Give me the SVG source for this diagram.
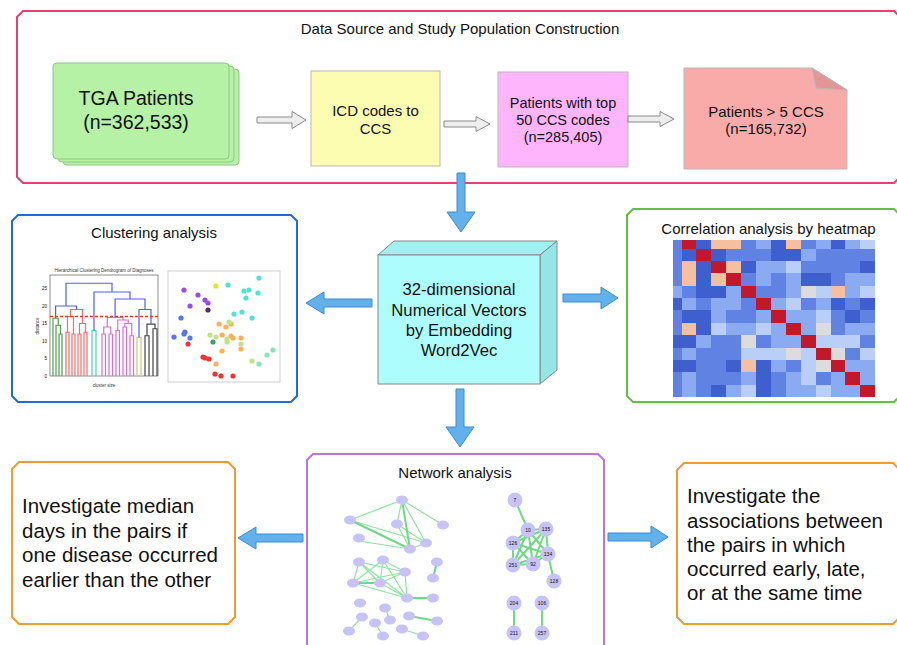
<svg xmlns="http://www.w3.org/2000/svg" width="897" height="645" viewBox="0 0 897 645">
<style>
text{font-family:"Liberation Sans",Arial,sans-serif;fill:#111}
.title{font-size:15px;text-anchor:middle}
.big{font-size:20.5px}
.frame{fill:#fff;stroke-width:2}
.garrow{fill:#eeeeee;stroke:#8a8a8a;stroke-width:1}
.barrow{fill:#63b1ea;stroke:#3b8bd0;stroke-width:1}
.d{fill:#3f5fcf}.m{fill:#5f82e3}.l{fill:#8aaaf2}.v{fill:#b9cff7}.g{fill:#dcdcdc}.p{fill:#f5bfa0}.r{fill:#c2182b}
.dg{fill:none;stroke-width:1.2}
.ne{stroke:#8fe39f;stroke-width:1.2;fill:none}
.nt{stroke:#6fd985;stroke-width:2;fill:none}
.nn{fill:#c7c3f6}
.nl{font-size:5px;fill:#444;text-anchor:middle}
.tiny{font-size:4.5px;fill:#333}
</style>

<g id="population-box">
<path class="frame" stroke="#e6416e" d="M23 11 H894 L900 17 V177 L894 183 H23 L17 177 V17 Z"/>
<text class="title" x="460" y="34">Data Source and Study Population Construction</text>
</g>

<g id="tga-patients">
<rect x="63" y="69" width="176" height="96" rx="4" fill="#b5f2a6" stroke="#8cc97e"/>
<rect x="58" y="66" width="176" height="96" rx="4" fill="#b5f2a6" stroke="#8cc97e"/>
<rect x="53" y="63" width="176" height="96" rx="4" fill="#b5f2a6" stroke="#8cc97e"/>
<text x="136" y="105" font-size="19.5" text-anchor="middle">TGA Patients</text>
<text x="136" y="129" font-size="19.5" text-anchor="middle">(n=362,533)</text>
</g>

<g id="icd-to-ccs">
<rect x="311" y="71" width="129" height="95" fill="#fdfdb2" stroke="#b8b8b8"/>
<text x="375.5" y="116" font-size="15" text-anchor="middle">ICD codes to</text>
<text x="375.5" y="134" font-size="15" text-anchor="middle">CCS</text>
</g>

<g id="top50">
<rect x="498" y="72" width="130" height="95" fill="#ffb5fc" stroke="#b8b8b8"/>
<text x="563" y="108" font-size="14.5" text-anchor="middle">Patients with top</text>
<text x="563" y="125" font-size="14.5" text-anchor="middle">50 CCS codes</text>
<text x="563" y="142" font-size="14.5" text-anchor="middle">(n=285,405)</text>
</g>

<g id="patients-5ccs">
<path d="M684 68 H812 L847 90 V169 H684 Z" fill="#f8aba9" stroke="#b8b8b8"/>
<path d="M812 68 L816 88 L847 90 Z" fill="#e39695" stroke="#b8b8b8"/>
<text x="766" y="117" font-size="15" text-anchor="middle">Patients &gt; 5 CCS</text>
<text x="766" y="134" font-size="15" text-anchor="middle">(n=165,732)</text>
</g>

<g id="embedding-cube">
<path d="M378 255 L394 241 H557 L540 255 Z" fill="#9ff0f0" stroke="#888"/>
<path d="M540 255 L557 241 V370 L540 384 Z" fill="#94e6e6" stroke="#888"/>
<rect x="378" y="255" width="162" height="129" fill="#aefdfd" stroke="#888"/>
<text x="459" y="295" font-size="16.7" text-anchor="middle">32-dimensional</text>
<text x="459" y="315.5" font-size="16.7" text-anchor="middle">Numerical Vectors</text>
<text x="459" y="336" font-size="16.7" text-anchor="middle">by Embedding</text>
<text x="459" y="356" font-size="16.7" text-anchor="middle">Word2Vec</text>
</g>

<g id="clustering-analysis">
<path class="frame" stroke="#2468da" d="M18 215 H291 L297 221 V396 L291 402 H18 L12 396 V221 Z"/>
<text class="title" x="154" y="238">Clustering analysis</text>
<text class="tiny" x="104" y="272" font-size="5" text-anchor="middle">Hierarchical Clustering Dendrogram of Diagnoses</text>
<rect x="50" y="275" width="108" height="101" fill="none" stroke="#444" stroke-width="0.6"/>
<g class="tiny" text-anchor="end">
<text x="47" y="377.5">0</text><text x="47" y="360">5</text><text x="47" y="342.5">10</text>
<text x="47" y="325">15</text><text x="47" y="307.5">20</text><text x="47" y="290">25</text>
</g>
<text class="tiny" font-size="4" transform="translate(39 326) rotate(-90)" text-anchor="middle">distance</text>
<text class="tiny" font-size="4" x="104" y="387" text-anchor="middle">cluster size</text>
<g class="dg" stroke="#4c9c4c">
<path d="M59 376 V334 H62 V376 M56 376 V325.25 H60.5 V334 M53 376 V318.25 H58.25 V325.25"/>
</g>
<g class="dg" stroke="#f26d6d">
<path d="M66 376 V332.25 H69 V376 M72 376 V334 H75 V376 M78 376 V334 H81 V376 M84 376 V332.25 H87 V376 M67.5 332.25 V316.5 H73.5 V334 M79.5 334 V323.5 H85.5 V332.25 M70.5 316.5 V309.5 H82.5 V323.5"/>
</g>
<path class="dg" stroke="#4cc8c8" d="M92 376 V330.5 H96 V376"/>
<g class="dg" stroke="#d46ee0">
<path d="M102 376 V334 H105.5 V376 M109 376 V334 H112.5 V376 M116 376 V330.5 H119.5 V376 M123 376 V327 H126.5 V376 M130 376 V335.75 H133.5 V376 M103.75 334 V327 H110.75 V334 M124.75 327 V323.5 H131.75 V335.75 M117.75 330.5 V320 H128.25 V323.5 M107.25 327 V317.5 H123 V320"/>
</g>
<path class="dg" stroke="#c9c96a" d="M137 376 V337.5 H141 V376"/>
<path class="dg" stroke="#444" d="M145 376 V335.75 H149 V376 M153 376 V328.75 H157 V376 M147 335.75 V324.2 H155 V328.75"/>
<path class="dg" stroke="#4f5ff0" d="M55.6 318.25 V306 H76.5 V309.5 M139 337.5 V309.5 H151 V324.2 M115.1 317.5 V299 H145 V309.5 M94 330.5 V292 H130 V299 M66 306 V283.25 H112 V292"/>
<path d="M50 316.5 H158" stroke="#f03030" stroke-width="1.5" stroke-dasharray="3 2" fill="none"/>
<rect x="168" y="271" width="112" height="111" fill="#fff" stroke="#cfcfcf"/>
<g opacity="0.85">
<g fill="#2fe0cf"><circle cx="259" cy="278" r="2.6"/><circle cx="228" cy="285" r="2.6"/><circle cx="244" cy="291" r="2.6"/><circle cx="249" cy="290" r="2.6"/><circle cx="258" cy="293" r="2.6"/><circle cx="246" cy="298" r="2.6"/><circle cx="242" cy="312" r="2.6"/><circle cx="234" cy="314" r="2.6"/><circle cx="252" cy="318" r="2.6"/></g>
<circle cx="216" cy="286" r="2.6" fill="#e6e000"/>
<g fill="#8a2be2"><circle cx="184" cy="290" r="2.6"/><circle cx="198" cy="295" r="2.6"/><circle cx="205" cy="300" r="2.6"/><circle cx="208" cy="303" r="2.6"/><circle cx="190" cy="306" r="2.6"/></g>
<circle cx="208" cy="310" r="2.6" fill="#3a0a4a"/>
<g fill="#3a5cf5"><circle cx="181" cy="318" r="2.6"/><circle cx="185" cy="332" r="2.6"/><circle cx="184" cy="334" r="2.6"/><circle cx="190" cy="338" r="2.6"/><circle cx="174" cy="337" r="2.6"/></g>
<g fill="#f01010"><circle cx="188" cy="344" r="2.6"/><circle cx="203" cy="357" r="2.6"/><circle cx="205" cy="358" r="2.6"/><circle cx="209" cy="359" r="2.6"/><circle cx="215" cy="374" r="2.6"/><circle cx="221" cy="376" r="2.6"/><circle cx="233" cy="376" r="2.6"/></g>
<g fill="#ffa040"><circle cx="219" cy="324" r="2.6"/><circle cx="226" cy="327" r="2.6"/><circle cx="231" cy="324" r="2.6"/><circle cx="222" cy="335" r="2.6"/><circle cx="231" cy="336" r="2.6"/><circle cx="233" cy="338" r="2.6"/><circle cx="241" cy="338" r="2.6"/><circle cx="241" cy="349" r="2.6"/><circle cx="222" cy="351" r="2.6"/><circle cx="216" cy="364" r="2.6"/></g>
<g fill="#b6e06e"><circle cx="210" cy="335" r="2.6"/><circle cx="229" cy="322" r="2.6"/><circle cx="216" cy="337" r="2.6"/><circle cx="227" cy="339" r="2.6"/><circle cx="227" cy="342" r="2.6"/><circle cx="241" cy="344" r="2.6"/><circle cx="252" cy="361" r="2.6"/></g>
<circle cx="213" cy="342" r="2.6" fill="#1f8f50"/>
<g fill="#6fe3a5"><circle cx="267" cy="355" r="2.6"/><circle cx="273" cy="350" r="2.6"/><circle cx="259" cy="364" r="2.6"/></g>
</g>
</g>

<g id="heatmap-analysis">
<path class="frame" stroke="#62c047" d="M633 209 H894 L900 215 V396 L894 402 H633 L627 396 V215 Z"/>
<text class="title" x="768.5" y="234">Correlation analysis by heatmap</text>
<g id="heatmap-cells" shape-rendering="crispEdges">
<g transform="translate(0 240)">
<rect class="m" x="673" y="0" width="9" height="9"/><rect class="r" x="681.5" y="0" width="15.4" height="9"/><rect class="d" x="696.4" y="0" width="15.4" height="9"/><rect class="p" x="711.3" y="0" width="15.4" height="9"/><rect class="p" x="726.2" y="0" width="15.4" height="9"/><rect class="m" x="741.1" y="0" width="15.4" height="9"/><rect class="l" x="756" y="0" width="15.4" height="9"/><rect class="d" x="770.9" y="0" width="15.4" height="9"/><rect class="p" x="785.8" y="0" width="15.4" height="9"/><rect class="m" x="800.7" y="0" width="15.4" height="9"/><rect class="l" x="815.6" y="0" width="15.4" height="9"/><rect class="d" x="830.5" y="0" width="15.4" height="9"/><rect class="l" x="845.4" y="0" width="15.4" height="9"/><rect class="v" x="860.3" y="0" width="14.7" height="9"/>
</g>
<g transform="translate(0 248.5)">
<rect class="m" x="673" y="0" width="9" height="12.9"/><rect class="d" x="681.5" y="0" width="15.4" height="12.9"/><rect class="r" x="696.4" y="0" width="15.4" height="12.9"/><rect class="d" x="711.3" y="0" width="15.4" height="12.9"/><rect class="m" x="726.2" y="0" width="15.4" height="12.9"/><rect class="m" x="741.1" y="0" width="15.4" height="12.9"/><rect class="m" x="756" y="0" width="15.4" height="12.9"/><rect class="d" x="770.9" y="0" width="15.4" height="12.9"/><rect class="d" x="785.8" y="0" width="15.4" height="12.9"/><rect class="l" x="800.7" y="0" width="15.4" height="12.9"/><rect class="m" x="815.6" y="0" width="15.4" height="12.9"/><rect class="m" x="830.5" y="0" width="15.4" height="12.9"/><rect class="m" x="845.4" y="0" width="15.4" height="12.9"/><rect class="m" x="860.3" y="0" width="14.7" height="12.9"/>
</g>
<g transform="translate(0 260.875)">
<rect class="m" x="673" y="0" width="9" height="12.9"/><rect class="p" x="681.5" y="0" width="15.4" height="12.9"/><rect class="d" x="696.4" y="0" width="15.4" height="12.9"/><rect class="r" x="711.3" y="0" width="15.4" height="12.9"/><rect class="p" x="726.2" y="0" width="15.4" height="12.9"/><rect class="d" x="741.1" y="0" width="15.4" height="12.9"/><rect class="l" x="756" y="0" width="15.4" height="12.9"/><rect class="l" x="770.9" y="0" width="15.4" height="12.9"/><rect class="v" x="785.8" y="0" width="15.4" height="12.9"/><rect class="m" x="800.7" y="0" width="15.4" height="12.9"/><rect class="m" x="815.6" y="0" width="15.4" height="12.9"/><rect class="m" x="830.5" y="0" width="15.4" height="12.9"/><rect class="m" x="845.4" y="0" width="15.4" height="12.9"/><rect class="d" x="860.3" y="0" width="14.7" height="12.9"/>
</g>
<g transform="translate(0 273.25)">
<rect class="m" x="673" y="0" width="9" height="12.9"/><rect class="p" x="681.5" y="0" width="15.4" height="12.9"/><rect class="d" x="696.4" y="0" width="15.4" height="12.9"/><rect class="p" x="711.3" y="0" width="15.4" height="12.9"/><rect class="r" x="726.2" y="0" width="15.4" height="12.9"/><rect class="m" x="741.1" y="0" width="15.4" height="12.9"/><rect class="l" x="756" y="0" width="15.4" height="12.9"/><rect class="m" x="770.9" y="0" width="15.4" height="12.9"/><rect class="l" x="785.8" y="0" width="15.4" height="12.9"/><rect class="d" x="800.7" y="0" width="15.4" height="12.9"/><rect class="d" x="815.6" y="0" width="15.4" height="12.9"/><rect class="m" x="830.5" y="0" width="15.4" height="12.9"/><rect class="l" x="845.4" y="0" width="15.4" height="12.9"/><rect class="l" x="860.3" y="0" width="14.7" height="12.9"/>
</g>
<g transform="translate(0 285.625)">
<rect class="l" x="673" y="0" width="9" height="12.9"/><rect class="m" x="681.5" y="0" width="15.4" height="12.9"/><rect class="d" x="696.4" y="0" width="15.4" height="12.9"/><rect class="d" x="711.3" y="0" width="15.4" height="12.9"/><rect class="l" x="726.2" y="0" width="15.4" height="12.9"/><rect class="r" x="741.1" y="0" width="15.4" height="12.9"/><rect class="m" x="756" y="0" width="15.4" height="12.9"/><rect class="m" x="770.9" y="0" width="15.4" height="12.9"/><rect class="l" x="785.8" y="0" width="15.4" height="12.9"/><rect class="g" x="800.7" y="0" width="15.4" height="12.9"/><rect class="v" x="815.6" y="0" width="15.4" height="12.9"/><rect class="p" x="830.5" y="0" width="15.4" height="12.9"/><rect class="l" x="845.4" y="0" width="15.4" height="12.9"/><rect class="v" x="860.3" y="0" width="14.7" height="12.9"/>
</g>
<g transform="translate(0 298)">
<rect class="d" x="673" y="0" width="9" height="12.9"/><rect class="l" x="681.5" y="0" width="15.4" height="12.9"/><rect class="m" x="696.4" y="0" width="15.4" height="12.9"/><rect class="l" x="711.3" y="0" width="15.4" height="12.9"/><rect class="l" x="726.2" y="0" width="15.4" height="12.9"/><rect class="m" x="741.1" y="0" width="15.4" height="12.9"/><rect class="r" x="756" y="0" width="15.4" height="12.9"/><rect class="l" x="770.9" y="0" width="15.4" height="12.9"/><rect class="v" x="785.8" y="0" width="15.4" height="12.9"/><rect class="m" x="800.7" y="0" width="15.4" height="12.9"/><rect class="l" x="815.6" y="0" width="15.4" height="12.9"/><rect class="d" x="830.5" y="0" width="15.4" height="12.9"/><rect class="m" x="845.4" y="0" width="15.4" height="12.9"/><rect class="d" x="860.3" y="0" width="14.7" height="12.9"/>
</g>
<g transform="translate(0 310.375)">
<rect class="m" x="673" y="0" width="9" height="12.9"/><rect class="d" x="681.5" y="0" width="15.4" height="12.9"/><rect class="d" x="696.4" y="0" width="15.4" height="12.9"/><rect class="l" x="711.3" y="0" width="15.4" height="12.9"/><rect class="m" x="726.2" y="0" width="15.4" height="12.9"/><rect class="m" x="741.1" y="0" width="15.4" height="12.9"/><rect class="l" x="756" y="0" width="15.4" height="12.9"/><rect class="r" x="770.9" y="0" width="15.4" height="12.9"/><rect class="l" x="785.8" y="0" width="15.4" height="12.9"/><rect class="l" x="800.7" y="0" width="15.4" height="12.9"/><rect class="v" x="815.6" y="0" width="15.4" height="12.9"/><rect class="m" x="830.5" y="0" width="15.4" height="12.9"/><rect class="d" x="845.4" y="0" width="15.4" height="12.9"/><rect class="m" x="860.3" y="0" width="14.7" height="12.9"/>
</g>
<g transform="translate(0 322.75)">
<rect class="m" x="673" y="0" width="9" height="12.9"/><rect class="p" x="681.5" y="0" width="15.4" height="12.9"/><rect class="d" x="696.4" y="0" width="15.4" height="12.9"/><rect class="v" x="711.3" y="0" width="15.4" height="12.9"/><rect class="l" x="726.2" y="0" width="15.4" height="12.9"/><rect class="l" x="741.1" y="0" width="15.4" height="12.9"/><rect class="v" x="756" y="0" width="15.4" height="12.9"/><rect class="l" x="770.9" y="0" width="15.4" height="12.9"/><rect class="r" x="785.8" y="0" width="15.4" height="12.9"/><rect class="l" x="800.7" y="0" width="15.4" height="12.9"/><rect class="g" x="815.6" y="0" width="15.4" height="12.9"/><rect class="m" x="830.5" y="0" width="15.4" height="12.9"/><rect class="l" x="845.4" y="0" width="15.4" height="12.9"/><rect class="l" x="860.3" y="0" width="14.7" height="12.9"/>
</g>
<g transform="translate(0 335.125)">
<rect class="d" x="673" y="0" width="9" height="12.9"/><rect class="d" x="681.5" y="0" width="15.4" height="12.9"/><rect class="l" x="696.4" y="0" width="15.4" height="12.9"/><rect class="m" x="711.3" y="0" width="15.4" height="12.9"/><rect class="m" x="726.2" y="0" width="15.4" height="12.9"/><rect class="g" x="741.1" y="0" width="15.4" height="12.9"/><rect class="m" x="756" y="0" width="15.4" height="12.9"/><rect class="l" x="770.9" y="0" width="15.4" height="12.9"/><rect class="l" x="785.8" y="0" width="15.4" height="12.9"/><rect class="r" x="800.7" y="0" width="15.4" height="12.9"/><rect class="v" x="815.6" y="0" width="15.4" height="12.9"/><rect class="v" x="830.5" y="0" width="15.4" height="12.9"/><rect class="v" x="845.4" y="0" width="15.4" height="12.9"/><rect class="m" x="860.3" y="0" width="14.7" height="12.9"/>
</g>
<g transform="translate(0 347.5)">
<rect class="m" x="673" y="0" width="9" height="12.9"/><rect class="l" x="681.5" y="0" width="15.4" height="12.9"/><rect class="m" x="696.4" y="0" width="15.4" height="12.9"/><rect class="m" x="711.3" y="0" width="15.4" height="12.9"/><rect class="m" x="726.2" y="0" width="15.4" height="12.9"/><rect class="v" x="741.1" y="0" width="15.4" height="12.9"/><rect class="v" x="756" y="0" width="15.4" height="12.9"/><rect class="v" x="770.9" y="0" width="15.4" height="12.9"/><rect class="g" x="785.8" y="0" width="15.4" height="12.9"/><rect class="v" x="800.7" y="0" width="15.4" height="12.9"/><rect class="r" x="815.6" y="0" width="15.4" height="12.9"/><rect class="g" x="830.5" y="0" width="15.4" height="12.9"/><rect class="m" x="845.4" y="0" width="15.4" height="12.9"/><rect class="v" x="860.3" y="0" width="14.7" height="12.9"/>
</g>
<g transform="translate(0 359.875)">
<rect class="d" x="673" y="0" width="9" height="12.9"/><rect class="d" x="681.5" y="0" width="15.4" height="12.9"/><rect class="m" x="696.4" y="0" width="15.4" height="12.9"/><rect class="m" x="711.3" y="0" width="15.4" height="12.9"/><rect class="d" x="726.2" y="0" width="15.4" height="12.9"/><rect class="p" x="741.1" y="0" width="15.4" height="12.9"/><rect class="d" x="756" y="0" width="15.4" height="12.9"/><rect class="l" x="770.9" y="0" width="15.4" height="12.9"/><rect class="m" x="785.8" y="0" width="15.4" height="12.9"/><rect class="v" x="800.7" y="0" width="15.4" height="12.9"/><rect class="g" x="815.6" y="0" width="15.4" height="12.9"/><rect class="r" x="830.5" y="0" width="15.4" height="12.9"/><rect class="l" x="845.4" y="0" width="15.4" height="12.9"/><rect class="l" x="860.3" y="0" width="14.7" height="12.9"/>
</g>
<g transform="translate(0 372.25)">
<rect class="m" x="673" y="0" width="9" height="12.9"/><rect class="l" x="681.5" y="0" width="15.4" height="12.9"/><rect class="m" x="696.4" y="0" width="15.4" height="12.9"/><rect class="m" x="711.3" y="0" width="15.4" height="12.9"/><rect class="m" x="726.2" y="0" width="15.4" height="12.9"/><rect class="l" x="741.1" y="0" width="15.4" height="12.9"/><rect class="d" x="756" y="0" width="15.4" height="12.9"/><rect class="m" x="770.9" y="0" width="15.4" height="12.9"/><rect class="l" x="785.8" y="0" width="15.4" height="12.9"/><rect class="v" x="800.7" y="0" width="15.4" height="12.9"/><rect class="m" x="815.6" y="0" width="15.4" height="12.9"/><rect class="l" x="830.5" y="0" width="15.4" height="12.9"/><rect class="r" x="845.4" y="0" width="15.4" height="12.9"/><rect class="l" x="860.3" y="0" width="14.7" height="12.9"/>
</g>
<g transform="translate(0 384.625)">
<rect class="m" x="673" y="0" width="9" height="12.4"/><rect class="l" x="681.5" y="0" width="15.4" height="12.4"/><rect class="m" x="696.4" y="0" width="15.4" height="12.4"/><rect class="d" x="711.3" y="0" width="15.4" height="12.4"/><rect class="l" x="726.2" y="0" width="15.4" height="12.4"/><rect class="v" x="741.1" y="0" width="15.4" height="12.4"/><rect class="d" x="756" y="0" width="15.4" height="12.4"/><rect class="m" x="770.9" y="0" width="15.4" height="12.4"/><rect class="l" x="785.8" y="0" width="15.4" height="12.4"/><rect class="l" x="800.7" y="0" width="15.4" height="12.4"/><rect class="v" x="815.6" y="0" width="15.4" height="12.4"/><rect class="l" x="830.5" y="0" width="15.4" height="12.4"/><rect class="l" x="845.4" y="0" width="15.4" height="12.4"/><rect class="r" x="860.3" y="0" width="14.7" height="12.4"/>
</g>
</g>
</g>

<g id="network-analysis">
<path class="frame" stroke="#b975da" d="M313 454 H598 L604 460 V650 H307 V460 Z"/>
<text class="title" x="455" y="478">Network analysis</text>
<g id="network-left">
<path class="ne" d="M402 500 L350 520 M402 500 L397 524 M402 500 L443 525 M402 500 L426 543 M350 520 L426 543 M397 524 L426 543 M426 543 L410 549 M359 541 L410 549 M397 524 L410 549"/>
<path class="nt" d="M402 500 L410 549 M350 520 L410 549"/>
<path class="ne" d="M359 562 L380 583 M359 562 L405 572 M383 560 L380 583 M383 560 L353 583 M383 560 L405 572 M353 583 L405 572 M380 583 L405 572 M380 583 L407 598 M405 572 L407 598 M353 583 L407 598 M359 562 L407 598 M383 560 L407 598 M390 620 L385 608 M362 617 L349 631 M375 623 L383 636 M402 629 L423 636 M359 562 L353 583"/>
<path class="nt" d="M353 583 L380 583 M407 598 L433 598 M437 562 L433 578 M409 616 L437 621"/>
<g class="nn">
<ellipse cx="402" cy="500" rx="6" ry="4.5"/><ellipse cx="350" cy="520" rx="6" ry="4.5"/><ellipse cx="397" cy="524" rx="6" ry="4.5"/><ellipse cx="443" cy="525" rx="6" ry="4.5"/><ellipse cx="359" cy="538" rx="6" ry="4.5"/><ellipse cx="426" cy="543" rx="6" ry="4.5"/><ellipse cx="410" cy="549" rx="6" ry="4.5"/><ellipse cx="359" cy="562" rx="6" ry="4.5"/><ellipse cx="383" cy="560" rx="6" ry="4.5"/><ellipse cx="437" cy="562" rx="6" ry="4.5"/><ellipse cx="405" cy="572" rx="6" ry="4.5"/><ellipse cx="433" cy="578" rx="6" ry="4.5"/><ellipse cx="353" cy="583" rx="6" ry="4.5"/><ellipse cx="380" cy="583" rx="6" ry="4.5"/><ellipse cx="407" cy="598" rx="6" ry="4.5"/><ellipse cx="433" cy="598" rx="6" ry="4.5"/><ellipse cx="360" cy="603" rx="6" ry="4.5"/><ellipse cx="385" cy="608" rx="6" ry="4.5"/><ellipse cx="362" cy="617" rx="6" ry="4.5"/><ellipse cx="390" cy="620" rx="6" ry="4.5"/><ellipse cx="375" cy="623" rx="6" ry="4.5"/><ellipse cx="409" cy="616" rx="6" ry="4.5"/><ellipse cx="437" cy="621" rx="6" ry="4.5"/><ellipse cx="349" cy="631" rx="6" ry="4.5"/><ellipse cx="402" cy="629" rx="6" ry="4.5"/><ellipse cx="383" cy="636" rx="6" ry="4.5"/><ellipse cx="423" cy="636" rx="6" ry="4.5"/>
</g>
</g>
<g id="network-right">
<path class="nt" d="M515 500 L528 530 M528 530 L513 543 M528 530 L546 529 M528 530 L548 554 M528 530 L513 565 M528 530 L533 564 M546 529 L513 543 M546 529 L548 554 M546 529 L533 564 M546 529 L513 565 M513 543 L548 554 M513 543 L513 565 M513 543 L533 564 M513 565 L533 564 M513 565 L548 554 M533 564 L548 554 M548 554 L554 581 M514 603 L514 633 M542 603 L542 633"/>
<g class="nn">
<circle cx="515" cy="500" r="7.5"/><circle cx="528" cy="530" r="7.5"/><circle cx="546" cy="529" r="7.5"/><circle cx="513" cy="543" r="7.5"/><circle cx="548" cy="554" r="7.5"/><circle cx="513" cy="565" r="7.5"/><circle cx="533" cy="564" r="7.5"/><circle cx="554" cy="581" r="7.5"/><circle cx="514" cy="603" r="7.5"/><circle cx="514" cy="633" r="7.5"/><circle cx="542" cy="603" r="7.5"/><circle cx="542" cy="633" r="7.5"/>
</g>
<g class="nl">
<text x="515" y="502">7</text><text x="528" y="532">10</text><text x="546" y="531">135</text><text x="513" y="545">126</text><text x="548" y="556">134</text><text x="513" y="567">251</text><text x="533" y="566">92</text><text x="554" y="583">128</text><text x="514" y="605">204</text><text x="514" y="635">211</text><text x="542" y="605">106</text><text x="542" y="635">257</text>
</g>
</g>
</g>

<g id="median-days">
<path class="frame" stroke="#f39a2e" d="M19 462 H228 L235 469 V617 L228 624 H19 L12 617 V469 Z"/>
<text class="big" x="22" y="513">Investigate median</text>
<text class="big" x="22" y="537.5">days in the pairs if</text>
<text class="big" x="22" y="562">one disease occurred</text>
<text class="big" x="22" y="586.5">earlier than the other</text>
</g>

<g id="associations">
<path class="frame" stroke="#f39a2e" d="M684 463 H893 L900 470 V617 L893 624 H684 L677 617 V470 Z"/>
<text class="big" x="687" y="503">Investigate the</text>
<text class="big" x="687" y="527.5">associations between</text>
<text class="big" x="687" y="551.5">the pairs in which</text>
<text class="big" x="687" y="575.5">occurred early, late,</text>
<text class="big" x="687" y="599.5">or at the same time</text>
</g>

<g id="connectors">
<path class="garrow" d="M257 117 H292 V111.5 L306 120 L292 128.5 V123 H257 Z"/>
<path class="garrow" d="M444 121 H476 V116.5 L490 124 L476 131.5 V127 H444 Z"/>
<path class="garrow" d="M628 116 H660 V111.5 L674 119 L660 126.5 V122 H628 Z"/>
<path class="barrow" d="M457 173 H465 V212 H475 L461 232 L447 212 H457 Z"/>
<path class="barrow" d="M372 299 H324 V292 L306 303 L324 314 V307 H372 Z"/>
<path class="barrow" d="M563 294 H601 V287 L618 298 L601 309 V302 H563 Z"/>
<path class="barrow" d="M456 389 H464 V427 H474 L460 447 L446 427 H456 Z"/>
<path class="barrow" d="M303 534 H256 V527 L238 538 L256 549 V542 H303 Z"/>
<path class="barrow" d="M608 533 H651 V526 L668 537 L651 548 V541 H608 Z"/>
</g>
</svg>
